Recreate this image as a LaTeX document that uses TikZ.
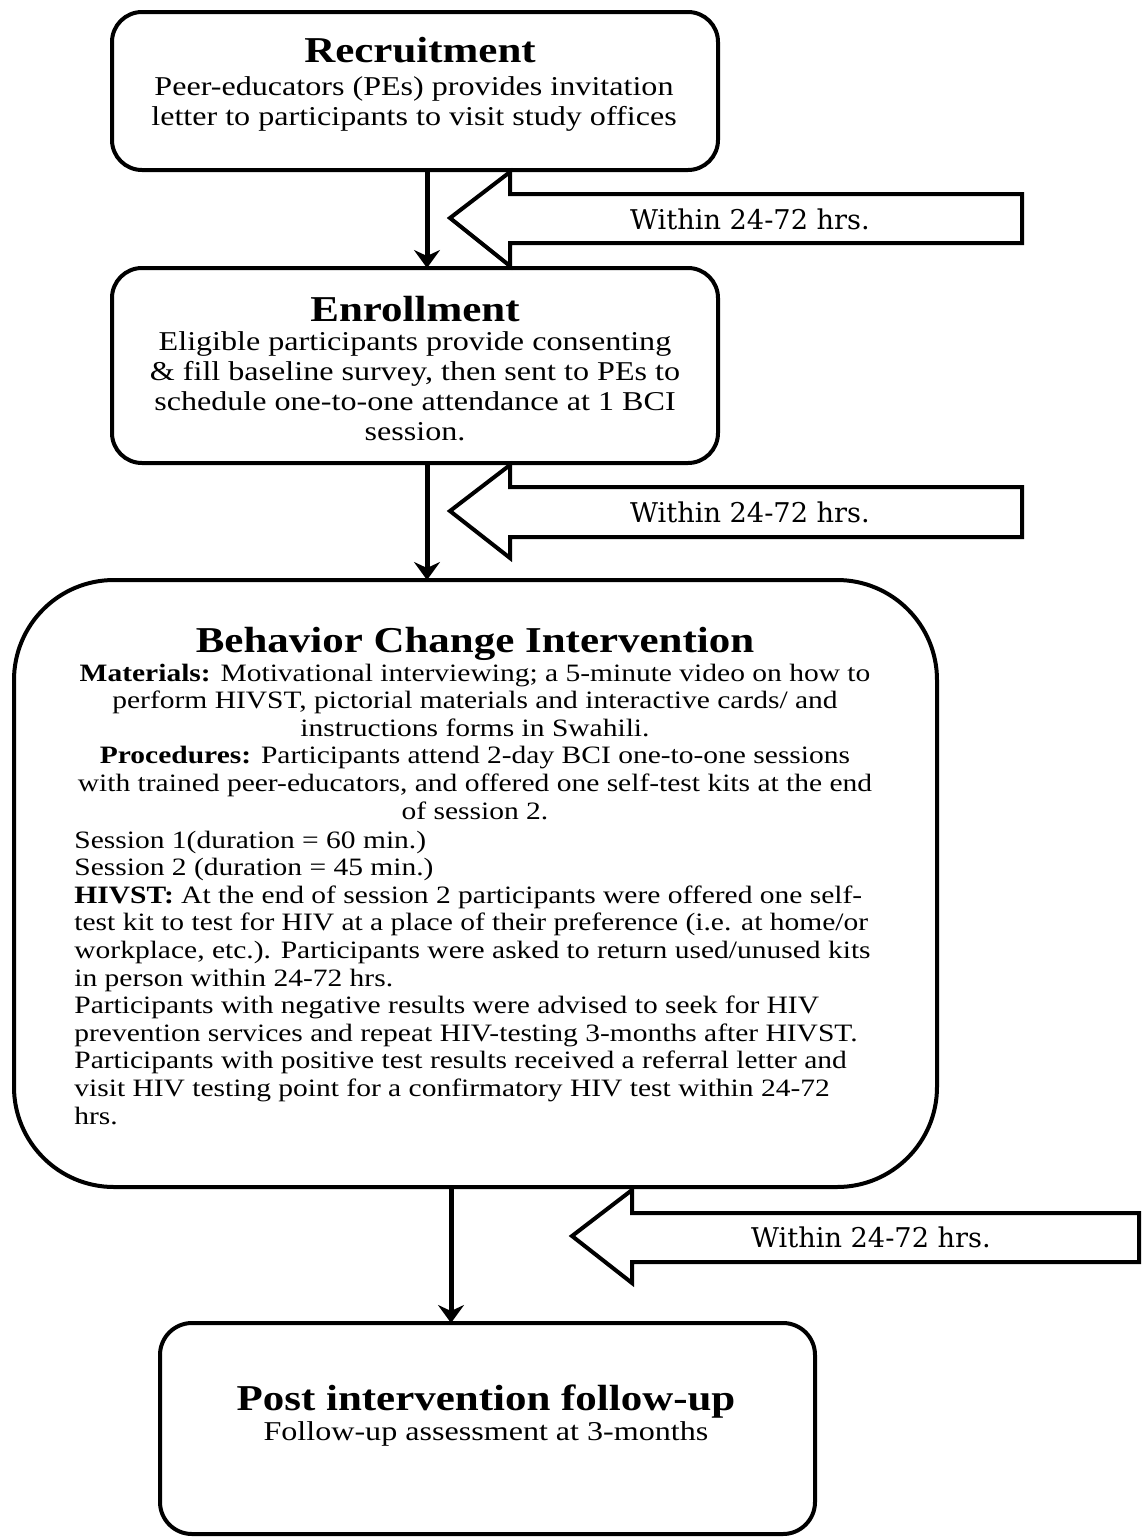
\documentclass[tikz,border=0pt]{standalone}
\usepackage{fontspec}
\setmainfont{Liberation Serif}[FakeStretch=1.18]
\newfontfamily\tagfont{DejaVu Serif}
\usetikzlibrary{arrows.meta,calc}
\newcommand\stagebody{\fontsize{13.6}{15}\selectfont}
\newcommand\bcibody{\fontsize{12.5}{13.8}\selectfont}

\begin{document}
\begin{tikzpicture}[x=0.5pt,y=-0.5pt,
  stage/.style={draw,line width=2pt,rounded corners=15pt,inner sep=0pt,outer sep=0pt},
  flow/.style={line width=2.5pt,-{Stealth[length=9pt,width=13pt,inset=3pt]}},
  timearrow/.style={draw,line width=2pt,line join=miter,fill=white},
  heading/.style={anchor=base,inner sep=0pt,font=\fontsize{18.2}{20}\selectfont\bfseries},
  body/.style={anchor=base,inner sep=0pt},
  tag/.style={inner sep=0pt,font=\tagfont\fontsize{13.6}{15}\selectfont}
]
\useasboundingbox (0,0) rectangle (1141,1537);

% stage boxes
\node[stage,minimum width=303pt,minimum height=79pt] (rec) at (415,91) {};
\node[stage,minimum width=303pt,minimum height=97.5pt] (enr) at (415,365.5) {};
\node[stage,rounded corners=50pt,minimum width=461.5pt,minimum height=303.5pt] (bci) at (475.5,883.5) {};
\node[stage,rounded corners=16pt,minimum width=327.5pt,minimum height=105.5pt] (post) at (487.5,1428.5) {};

% recruitment
\node[heading] (rect) at (420,62) {Recruitment};
\node[body] (recb) at (414,95) {\parbox[t]{320pt}{\centering\stagebody
  Peer-educators (PEs) provides invitation\\
  letter to participants to visit study offices}};

% enrollment
\node[heading] (enrt) at (415,321) {Enrollment};
\node[body] (enrb) at (415,350) {\parbox[t]{320pt}{\centering\stagebody
  Eligible participants provide consenting\\
  \& fill baseline survey, then sent to PEs to\\
  schedule one-to-one attendance at 1 BCI\\
  session.}};

% behaviour change intervention
\node[heading] (bcit) at (475,652) {Behavior Change Intervention};
\node[body] (bcim) at (475,681) {\parbox[t]{460pt}{\centering\bcibody
  \textbf{Materials:} Motivational interviewing; a 5-minute video on how to\\
  perform HIVST, pictorial materials and interactive cards/ and\\
  instructions forms in Swahili.\\
  \textbf{Procedures:} Participants attend 2-day BCI one-to-one sessions\\
  with trained peer-educators, and offered one self-test kits at the end\\
  of session 2.}};
\node[body,anchor=base west] (bcil) at (74,848) {\parbox[t]{460pt}{\raggedright\bcibody
  Session 1(duration = 60 min.)\\
  Session 2 (duration = 45 min.)\\
  \textbf{HIVST:} At the end of session 2 participants were offered one self-\\
  test kit to test for HIV at a place of their preference (i.e. at home/or\\
  workplace, etc.). Participants were asked to return used/unused kits\\
  in person within 24-72 hrs.\\
  Participants with negative results were advised to seek for HIV\\
  prevention services and repeat HIV-testing 3-months after HIVST.\\
  Participants with positive test results received a referral letter and\\
  visit HIV testing point for a confirmatory HIV test within 24-72\\
  hrs.}};

% follow-up
\node[heading] (postt) at (486,1410) {Post intervention follow-up};
\node[body] (postb) at (486,1440) {\stagebody Follow-up assessment at 3-months};

% flow connectors
\coordinate (f1) at ($(rec.south)+(6pt,0)$);
\coordinate (f2) at ($(enr.south)+(6pt,0)$);
\coordinate (f3) at ($(bci.south)+(-12.25pt,0)$);
\draw[flow] (f1) -- (f1 |- enr.north);
\draw[flow] (f2) -- (f2 |- bci.north);
\draw[flow] (f3) -- (f3 |- post.north);

% timing block arrows
\draw[timearrow] (450,218) -- (510,172) -- (510,194) -- (1022,194) -- (1022,243) -- (510,243) -- (510,266) -- cycle;
\node[tag] (t1) at (750,219) {Within 24-72 hrs.};
\draw[timearrow] (450,511) -- (510,465) -- (510,487) -- (1022,487) -- (1022,537) -- (510,537) -- (510,558) -- cycle;
\node[tag] (t2) at (750,512) {Within 24-72 hrs.};
\draw[timearrow] (572,1236) -- (632,1190) -- (632,1213) -- (1139,1213) -- (1139,1262) -- (632,1262) -- (632,1283) -- cycle;
\node[tag] (t3) at (871,1237) {Within 24-72 hrs.};
\end{tikzpicture}
\end{document}
